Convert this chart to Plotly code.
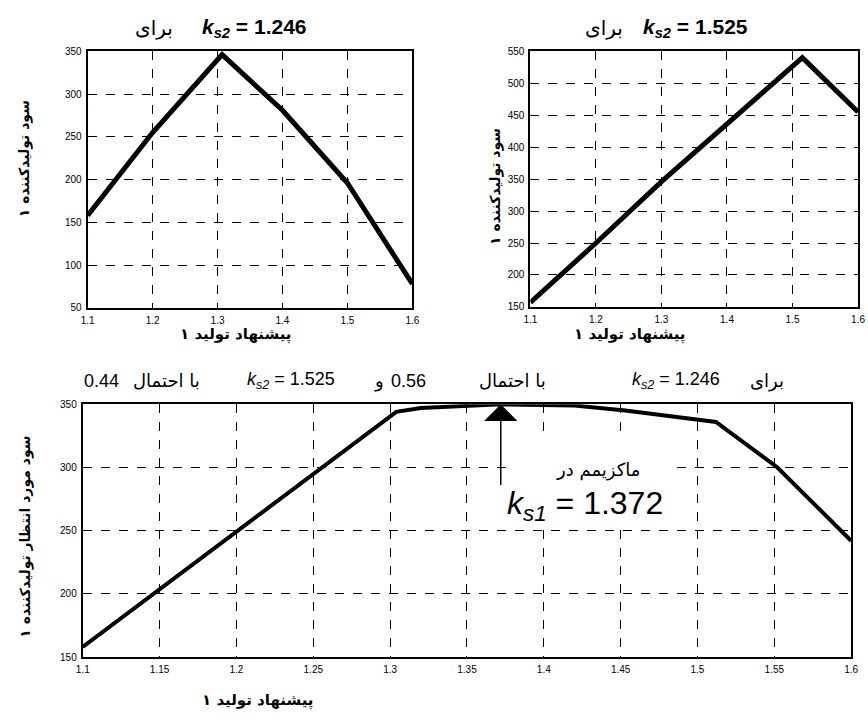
import plotly.graph_objects as go

# ---- data ----
x_tl = [1.1, 1.2, 1.307, 1.4, 1.5, 1.6]
y_tl = [158, 255, 346, 281, 196, 78]

x_tr = [1.1, 1.2, 1.3, 1.4, 1.515, 1.6]
y_tr = [157, 250, 346, 436, 540, 455]

x_b = [1.1, 1.304, 1.32, 1.372, 1.42, 1.453, 1.512, 1.552, 1.6]
y_b = [158, 344, 347, 350, 349, 345, 336, 300, 242]

ks1_max = 1.372

FONT = "Liberation Sans, DejaVu Sans, Arial"
AR_FONT = "DejaVu Sans, Noto Sans, Arial"

W, H = 868, 724
def px(x):
    return x / W
def py(y):
    return 1 - y / H

fig = go.Figure()
fig.add_trace(go.Scatter(x=x_tl, y=y_tl, mode="lines", line=dict(color="black", width=5),
                         xaxis="x", yaxis="y", showlegend=False))
fig.add_trace(go.Scatter(x=x_tr, y=y_tr, mode="lines", line=dict(color="black", width=5),
                         xaxis="x2", yaxis="y2", showlegend=False))
fig.add_trace(go.Scatter(x=x_b, y=y_b, mode="lines", line=dict(color="black", width=4),
                         xaxis="x3", yaxis="y3", showlegend=False))

def ax_style(**kw):
    d = dict(showline=True, mirror=True, linecolor="black", linewidth=2,
             showgrid=True, gridcolor="black", gridwidth=1, griddash="dash",
             zeroline=False, ticks="", ticklabelstandoff=2,
             tickfont=dict(family=FONT, size=10, color="black"))
    d.update(kw)
    return d

fig.update_layout(
    width=W, height=H, margin=dict(l=0, r=0, t=0, b=0),
    paper_bgcolor="white", plot_bgcolor="white",
    xaxis=ax_style(domain=[px(82), px(412)], range=[1.1, 1.6], dtick=0.1, anchor="y"),
    yaxis=ax_style(domain=[py(307), py(46)], range=[50, 350], dtick=50, anchor="x"),
    xaxis2=ax_style(domain=[px(532), px(865)], range=[1.1, 1.6], dtick=0.1, anchor="y2"),
    yaxis2=ax_style(domain=[py(306), py(46)], range=[150, 550], dtick=50, anchor="x2"),
    xaxis3=ax_style(domain=[px(77), px(858)], range=[1.1, 1.6], dtick=0.05, anchor="y3"),
    yaxis3=ax_style(domain=[py(662), py(405)], range=[150, 350], dtick=50, anchor="x3"),
)

# white box behind the annotation text in bottom plot
fig.add_shape(type="rect", xref="x3", yref="y3", x0=1.378, x1=1.485, y0=252, y1=322,
              fillcolor="white", line=dict(width=0), layer="between")

def note(text, x, y, size, bold=False, font=FONT, **kw):
    if bold:
        text = "<b>" + text + "</b>"
    fig.add_annotation(text=text, x=x, y=y, xref="paper", yref="paper",
                       showarrow=False, font=dict(family=font, size=size, color="black"),
                       xanchor=kw.pop("xanchor", "center"), yanchor=kw.pop("yanchor", "middle"), **kw)

KS2 = "<i>k<sub>s2</sub></i>"

# top titles
note("برای", px(149), py(22), 20, font=AR_FONT)
note(KS2 + " = 1.246", px(252), py(22), 21, bold=True)
note("برای", px(607), py(22), 20, font=AR_FONT)
note(KS2 + " = 1.525", px(700), py(22), 21, bold=True)

# bottom title pieces (visual left-to-right)
yb = py(381)
note("0.44", px(96), yb, 18)
note("با احتمال", px(162), yb, 18, font=AR_FONT)
note(KS2 + " = 1.525", px(289), yb, 18)
note("و", px(378), yb, 18, font=AR_FONT)
note("0.56", px(408), yb, 18)
note("با احتمال", px(514), yb, 18, font=AR_FONT)
note(KS2 + " = 1.246", px(680), yb, 18)
note("برای", px(772), yb, 18, font=AR_FONT)

# x-axis titles
note("پیشنهاد تولید ۱", px(232), py(334), 15, bold=True, font=AR_FONT)
note("پیشنهاد تولید ۱", px(633), py(334), 15, bold=True, font=AR_FONT)
note("پیشنهاد تولید ۱", px(255), py(706), 15, bold=True, font=AR_FONT)

# y-axis titles
note("سود تولیدکننده ۱", px(18), py(155), 14, bold=True, font=AR_FONT, textangle=-90)
note("سود تولیدکننده ۱", px(497), py(183), 14, bold=True, font=AR_FONT, textangle=-90)
note("سود مورد انتظار تولیدکننده ۱", px(18), py(540), 14, bold=True, font=AR_FONT, textangle=-90)

# arrow and max annotation in bottom plot
fig.add_annotation(x=ks1_max, y=350, ax=ks1_max, ay=285, xref="x3", yref="y3",
                   axref="x3", ayref="y3", text="", showarrow=True,
                   arrowhead=1, arrowsize=3.7, arrowwidth=1.5, arrowcolor="black", standoff=0)
fig.add_annotation(x=1.435, y=298, xref="x3", yref="y3", text="ماکزیمم در", showarrow=False,
                   font=dict(family=AR_FONT, size=18, color="black"))
fig.add_annotation(x=1.427, y=270, xref="x3", yref="y3",
                   text="<i>k<sub>s1</sub></i> = 1.372", showarrow=False,
                   font=dict(family=FONT, size=32, color="black"))

fig.write_html("out.html")
